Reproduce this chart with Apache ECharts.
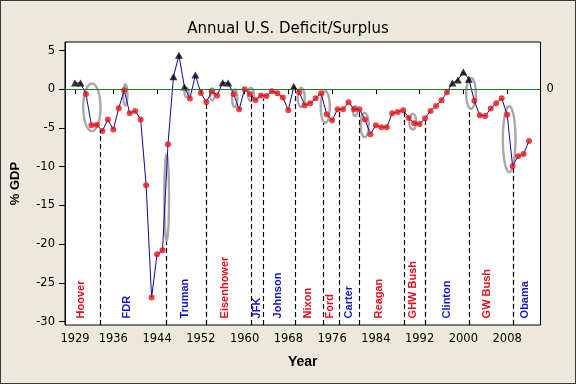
<!DOCTYPE html>
<html><head><meta charset="utf-8">
<script src="https://cdn.jsdelivr.net/npm/echarts@6/dist/echarts.min.js"></script>
<style>
html,body{margin:0;padding:0;background:#ECE9DC;}
#wrap{position:relative;width:576px;height:384px;}
#chart{width:576px;height:384px;}
#frame{position:absolute;left:0;top:0;width:574px;height:382px;border:1px solid #3a3a3a;pointer-events:none;}
</style></head><body>
<div id="wrap"><div id="chart"></div><div id="frame"></div></div>
<script>
// ---- data ----
const years = [1929,1930,1931,1932,1933,1934,1935,1936,1937,1938,
  1939,1940,1941,1942,1943,1944,1945,1946,1947,1948,
  1949,1950,1951,1952,1953,1954,1955,1956,1957,1958,
  1959,1960,1961,1962,1963,1964,1965,1966,1967,1968,
  1969,1970,1971,1972,1973,1974,1975,1976,1977,1978,
  1979,1980,1981,1982,1983,1984,1985,1986,1987,1988,
  1989,1990,1991,1992,1993,1994,1995,1996,1997,1998,
  1999,2000,2001,2002,2003,2004,2005,2006,2007,2008,
  2009,2010,2011,2012];
const deficitPct = [0.8,0.8,-0.6,-4.65,-4.6,-5.4,-3.9,-5.2,-2.45,-0.13,
  -3.1,-2.8,-3.9,-12.4,-26.9,-21.3,-20.8,-7.1,1.6,4.4,
  0.3,-1.2,1.85,-0.5,-1.65,-0.3,-0.8,0.85,0.8,-0.6,
  -2.6,0.0,-0.6,-1.4,-0.8,-0.87,-0.26,-0.52,-1.08,-2.7,
  0.35,-0.4,-2.07,-1.8,-1.16,-0.52,-3.23,-4.0,-2.6,-2.6,
  -1.68,-2.6,-2.6,-3.9,-5.8,-4.66,-4.9,-4.9,-3.1,-2.94,
  -2.7,-3.7,-4.4,-4.5,-3.75,-2.8,-2.16,-1.42,-0.39,0.8,
  1.2,2.24,1.3,-1.5,-3.36,-3.45,-2.5,-1.8,-1.16,-3.28,
  -9.9,-8.67,-8.37,-6.69];
const xTickYears = [1929,1936,1944,1952,1960,1968,1976,1984,1992,2000,2008];
const yTickValues = [-30,-25,-20,-15,-10,-5,0,5];

const presidents = ['Hoover','FDR','Truman','Eisenhower','JFK','Johnson','Nixon','Ford','Carter','Reagan','GHW Bush','Clinton','GW Bush','Obama'];
const presidentParty = ['R','D','D','R','D','D','R','R','D','R','R','D','R','D'];
const presidentLabelYear = [1930.0,1938.5,1949.1,1956.4,1962.3,1966.1,1971.5,1975.6,1979.0,1984.6,1990.8,1997.0,2004.4,2011.3];

const transitionYears = [1933.63,1945.69,1953.0,1961.3,1963.5,1969.28,1974.47,1977.32,1980.98,1989.1,1993.05,2001.1,2009.1];
const transitionTop = [-5.3,-19.7,-1.6,-0.5,-1.2,0.3,-4.4,-2.9,-2.9,-2.9,-4.0,-2.7,-10.2];

const recessionStart = [1930.28,1937.6,1945.1,1948.8,1953.5,1957.5,1960.4,1969.5,1973.7,1979.6,1981.0,1989.9,2000.3,2007.0];
const recessionEnd = [1933.88,1938.8,1946.4,1950.0,1954.7,1958.9,1961.9,1971.2,1975.8,1980.8,1982.9,1991.6,2002.5,2009.75];
const recessionTop = [0.9,0.78,-8.3,0.34,0.26,0.13,0.34,0.34,-0.09,-2.03,-2.9,-3.03,1.63,-2.03];
const recessionBottom = [-5.56,-2.25,-19.7,-1.16,-1.6,-2.46,-1.68,-2.46,-4.49,-3.62,-6.34,-5.36,-2.68,-10.87];

// ---- chart ----
const X_MIN = 1927.17, X_MAX = 2014.1, Y_MIN = -30.45, Y_MAX = 6.1;
const tickFont = 'DejaVu Sans';
const points = years.map((y, i) => [y, deficitPct[i]]);
const deficitPts = points.filter(p => p[1] <= 0);
const surplusPts = points.filter(p => p[1] > 0);

const chart = echarts.init(document.getElementById('chart'), null, {renderer: 'canvas'});
chart.setOption({
  animation: false,
  backgroundColor: '#ECE9DC',
  title: {
    text: 'Annual U.S. Deficit/Surplus', left: 'center', top: 17,
    textStyle: {fontFamily: tickFont, fontSize: 15, fontWeight: 'normal', color: '#000'}
  },
  grid: {left: 65, right: 35.5, top: 42, bottom: 59, show: true, backgroundColor: '#fff', borderColor: '#000', borderWidth: 1},
  xAxis: {
    type: 'value', min: X_MIN, max: X_MAX,
    name: 'Year', nameLocation: 'middle', nameGap: 30,
    nameTextStyle: {fontFamily: 'Liberation Sans', fontWeight: 'bold', fontSize: 14, color: '#000'},
    axisLine: {show: true, lineStyle: {color: '#000', width: 1}},
    axisTick: {show: true, length: 5, customValues: xTickYears, lineStyle: {color: '#000'}},
    axisLabel: {customValues: xTickYears, margin: 8, fontFamily: tickFont, fontSize: 11.5, color: '#000', formatter: v => String(v)},
    splitLine: {show: false}
  },
  yAxis: {
    type: 'value', min: Y_MIN, max: Y_MAX,
    name: '% GDP', nameLocation: 'middle', nameGap: 43, nameRotate: 90,
    nameTextStyle: {fontFamily: 'Liberation Sans', fontWeight: 'bold', fontSize: 13, color: '#000'},
    axisLine: {show: true, lineStyle: {color: '#000', width: 1}},
    axisTick: {show: true, length: 6, customValues: yTickValues, lineStyle: {color: '#000'}},
    axisLabel: {customValues: yTickValues, margin: 10, fontFamily: tickFont, fontSize: 11.5, color: '#000'},
    splitLine: {show: false}
  },
  series: [
    {
      type: 'custom', name: 'recessions', z: 1, silent: true,
      encode: {x: [0, 1], y: [2, 3]},
      data: recessionStart.map((s, i) => [s, recessionEnd[i], recessionTop[i], recessionBottom[i]]),
      renderItem: (params, api) => {
        const a = api.coord([api.value(0), api.value(2)]);
        const b = api.coord([api.value(1), api.value(3)]);
        const cx = (a[0] + b[0]) / 2, cy = (a[1] + b[1]) / 2;
        const rx = Math.abs(b[0] - a[0]) / 2 - 1.2, ry = Math.abs(b[1] - a[1]) / 2 - 1.2;
        const pts = [];
        for (let k = 0; k < 72; k++) {
          const t = k / 72 * 2 * Math.PI;
          pts.push([cx + rx * Math.cos(t), cy + ry * Math.sin(t)]);
        }
        return {type: 'polygon', shape: {points: pts}, style: {fill: 'none', stroke: '#a8a8a8', lineWidth: 2.4}};
      }
    },
    {
      type: 'line', name: 'refs', z: 2, data: [], silent: true,
      markLine: {
        silent: true, symbol: 'none', animation: false,
        data: [
          {yAxis: 0, lineStyle: {color: '#1f7a1f', width: 1, type: 'solid'},
           label: {show: true, position: 'end', formatter: '0', color: '#000', fontFamily: tickFont, fontSize: 11.5, distance: 6}},
          ...transitionYears.map((x, i) => [
            {coord: [x, Y_MIN], lineStyle: {color: '#000', width: 1.2, type: [5, 3]}, label: {show: false}},
            {coord: [x, transitionTop[i]]}
          ])
        ]
      }
    },
    {
      type: 'line', name: 'deficit', z: 3, data: points, showSymbol: false, silent: true,
      lineStyle: {color: '#0a0a9c', width: 1}
    },
    {
      type: 'scatter', name: 'deficitPts', z: 4, data: deficitPts, symbol: 'circle', symbolSize: 6, silent: true,
      itemStyle: {color: '#ee1111'}
    },
    {
      type: 'scatter', name: 'surplusPts', z: 4, data: surplusPts, symbol: 'triangle', symbolSize: [8, 7], silent: true,
      itemStyle: {color: '#000'}
    },
    {
      type: 'custom', name: 'presidents', z: 5, silent: true,
      encode: {x: 0, y: 1},
      data: presidentLabelYear.map(x => [x, -29.6]),
      renderItem: (params, api) => {
        const i = params.dataIndex;
        const p = api.coord([api.value(0), api.value(1)]);
        return {
          type: 'text', x: p[0], y: p[1], rotation: Math.PI / 2,
          style: {
            text: presidents[i], align: 'left', verticalAlign: 'middle',
            fill: presidentParty[i] === 'R' ? '#e0101e' : '#1414c4',
            font: 'bold 11px "Liberation Sans"'
          }
        };
      }
    }
  ]
});
</script>
</body></html>
